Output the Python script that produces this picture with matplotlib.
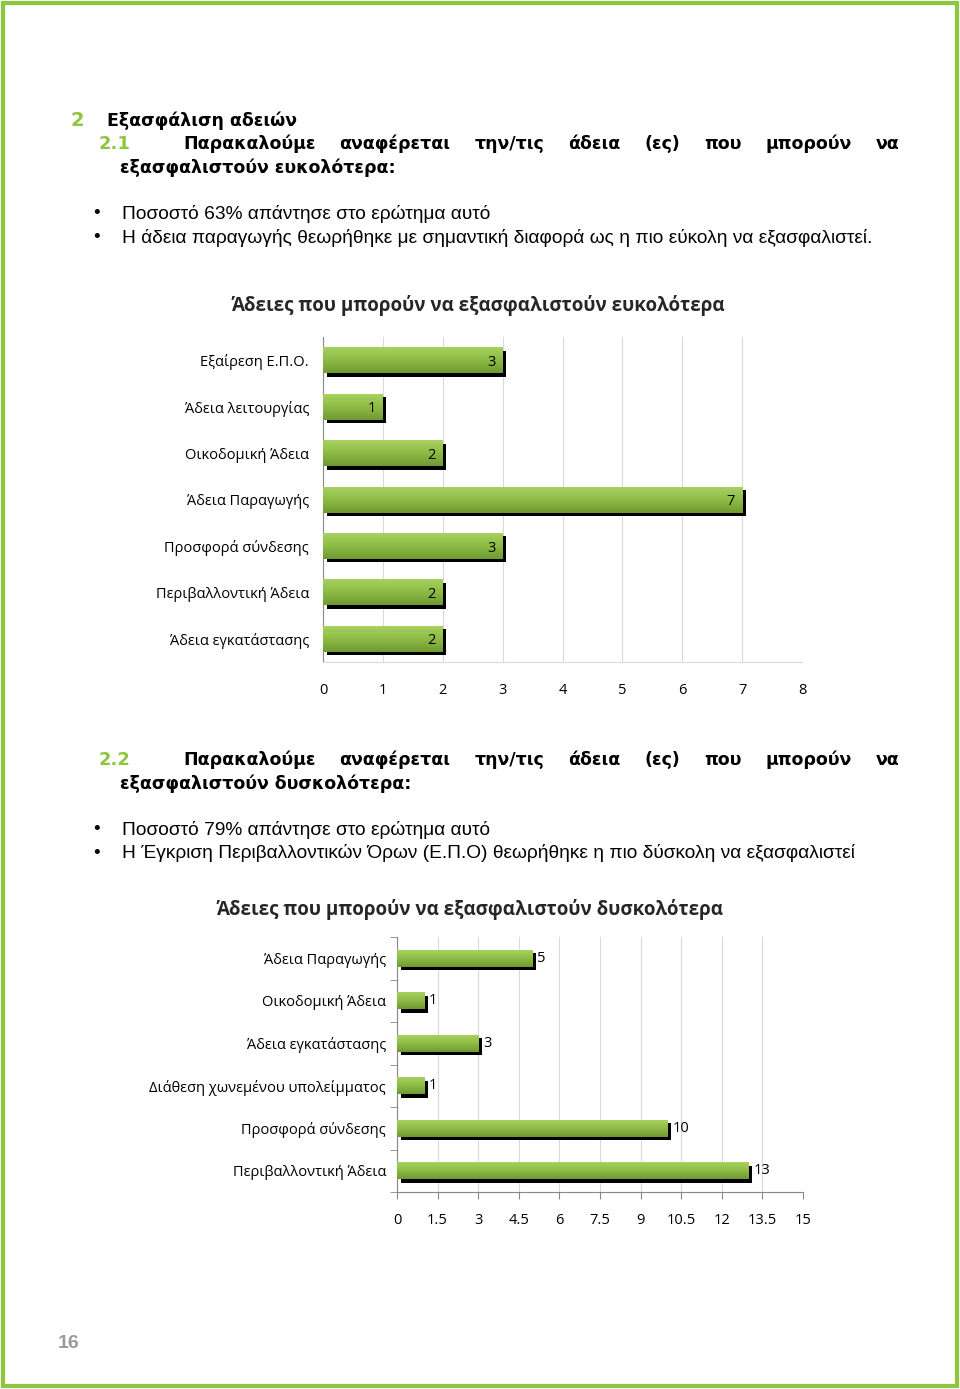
import numpy as np
import matplotlib
matplotlib.use("Agg")
import matplotlib.pyplot as plt
from matplotlib.patches import Rectangle
from matplotlib.transforms import ScaledTranslation

# data
easy_cats = ["Εξαίρεση Ε.Π.Ο.", "Άδεια λειτουργίας", "Οικοδομική Άδεια", "Άδεια Παραγωγής",
             "Προσφορά σύνδεσης", "Περιβαλλοντική Άδεια", "Άδεια εγκατάστασης"]
easy_vals = [3, 1, 2, 7, 3, 2, 2]
easy_ticks = [0, 1, 2, 3, 4, 5, 6, 7, 8]

hard_cats = ["Άδεια Παραγωγής", "Οικοδομική Άδεια", "Άδεια εγκατάστασης",
             "Διάθεση χωνεμένου υπολείμματος", "Προσφορά σύνδεσης", "Περιβαλλοντική Άδεια"]
hard_vals = [5, 1, 3, 1, 10, 13]
hard_ticks = [0, 1.5, 3, 4.5, 6, 7.5, 9, 10.5, 12, 13.5, 15]

W, H = 960, 1389
GREEN = "#8cc63f"
CHART_FONT = ["Open Sans", "DejaVu Sans"]
HEAD_FONT = ["DejaVu Sans"]
BODY_FONT = ["Liberation Sans", "DejaVu Sans"]

fig = plt.figure(figsize=(W / 100, H / 100), dpi=100)
fig.patch.set_facecolor("white")


def fx(x):
    return x / W


def fy(y):
    return 1 - y / H


def txt(x, y, s, **kw):
    kw.setdefault("va", "center")
    return fig.text(fx(x), fy(y), s, **kw)


# page border
fig.patches.append(Rectangle((fx(3), fy(1386)), fx(954), (1383) / H, transform=fig.transFigure,
                             fill=False, edgecolor=GREEN, linewidth=3))


def justified(y, words, x0, x1, **kw):
    renderer = fig.canvas.get_renderer()
    items = [txt(x0, y, w, **kw) for w in words]
    widths = [t.get_window_extent(renderer).width for t in items]
    gap = (x1 - x0 - sum(widths)) / (len(words) - 1)
    x = x0
    for t, w in zip(items, widths):
        t.set_x(fx(x))
        x += w + gap


head_kw = dict(family=HEAD_FONT, fontsize=12.5, fontweight="bold", color="black")
body_kw = dict(family=BODY_FONT, fontsize=13.8, color="black")

txt(70, 120, "2", family=HEAD_FONT, fontsize=14, fontweight="bold", color=GREEN)
txt(107, 121, "Εξασφάλιση αδειών", **head_kw)

txt(99, 144, "2.1", family=HEAD_FONT, fontsize=13, fontweight="bold", color=GREEN)
justified(144, "Παρακαλούμε αναφέρεται την/τις άδεια (ες) που μπορούν να".split(), 183, 900, **head_kw)
txt(120, 168, "εξασφαλιστούν ευκολότερα:", **head_kw)

for y, s in [(214, "Ποσοστό 63% απάντησε στο ερώτημα αυτό"),
             (238, "Η άδεια παραγωγής θεωρήθηκε με σημαντική διαφορά ως η πιο εύκολη να εξασφαλιστεί.")]:
    txt(93, y, "•", **body_kw)
    txt(122, y, s, **body_kw)

txt(99, 760, "2.2", family=HEAD_FONT, fontsize=13, fontweight="bold", color=GREEN)
justified(760, "Παρακαλούμε αναφέρεται την/τις άδεια (ες) που μπορούν να".split(), 183, 900, **head_kw)
txt(120, 784, "εξασφαλιστούν δυσκολότερα:", **head_kw)

for y, s in [(830, "Ποσοστό 79% απάντησε στο ερώτημα αυτό"),
             (853, "Η Έγκριση Περιβαλλοντικών Όρων (Ε.Π.Ο) θεωρήθηκε η πιο δύσκολη να εξασφαλιστεί")]:
    txt(93, y, "•", **body_kw)
    txt(122, y, s, **body_kw)

txt(69, 1344, "16", family=["Liberation Sans"], fontsize=14, fontweight="bold", color="#999999", ha="center")

# green gradient used to fill bars
grad = np.linspace(0, 1, 64).reshape(-1, 1)
cmap = matplotlib.colors.LinearSegmentedColormap.from_list("g", ["#a8d160", "#8dbb45", "#6e9a33"])


def bar_chart(left, top, right, bottom, cats, vals, ticks, bar_h, inside, title, title_x, title_y):
    ax = fig.add_axes([fx(left), fy(bottom), (right - left) / W, (bottom - top) / H])
    y = np.arange(len(cats))
    shadow = ax.barh(y, vals, height=bar_h, color="black", zorder=2)
    off = ScaledTranslation(3.5 / 100, -3.5 / 100, fig.dpi_scale_trans)
    for p in shadow:
        p.set_transform(ax.transData + off)
    bars = ax.barh(y, vals, height=bar_h, color="#8dbb45", zorder=3)
    for p, v in zip(bars, vals):
        im = ax.imshow(grad, cmap=cmap, aspect="auto", zorder=4,
                       extent=[0, v, p.get_y() + bar_h, p.get_y()])
        im.set_clip_path(p)
        if inside:
            ax.annotate(str(v), (v, p.get_y() + bar_h / 2), xytext=(-5, -1.5), textcoords="offset points",
                        ha="right", va="center", family=CHART_FONT, fontsize=10.5, color="black", zorder=5)
        else:
            ax.annotate(str(v), (v, p.get_y() + bar_h / 2), xytext=(3.5, 0), textcoords="offset points",
                        ha="left", va="center", family=CHART_FONT, fontsize=10.5, color="black", zorder=5)
    ax.set_xlim(ticks[0], ticks[-1])
    ax.set_ylim(len(cats) - 0.5, -0.5)
    ax.set_xticks(ticks)
    ax.set_xticklabels([("%g" % t) for t in ticks], family=CHART_FONT, fontsize=10.5)
    ax.set_yticks(y)
    ax.set_yticklabels(cats, family=CHART_FONT, fontsize=10.5)
    ax.grid(axis="x", color="#d9d9d9", linewidth=0.8, zorder=0)
    ax.set_axisbelow(True)
    for s in ["top", "right"]:
        ax.spines[s].set_visible(False)
    ax.spines["left"].set_color("#888888")
    ax.spines["bottom"].set_color("#d9d9d9")
    ax.tick_params(axis="y", length=0, pad=10)
    ax.tick_params(axis="x", length=0, pad=15)
    txt(title_x, title_y, title, family=CHART_FONT, fontsize=13.5, fontweight="bold",
        color="#262626", ha="center")
    return ax


ax1 = bar_chart(323, 337, 802, 662, easy_cats, easy_vals, easy_ticks, 0.56, True,
                "Άδειες που μπορούν να εξασφαλιστούν ευκολότερα", 478, 305)
ax2 = bar_chart(397, 937, 803, 1192, hard_cats, hard_vals, hard_ticks, 0.40, False,
                "Άδειες που μπορούν να εξασφαλιστούν δυσκολότερα", 470, 909)
ax2.spines["bottom"].set_color("#888888")
ax2.tick_params(axis="x", length=5, color="#888888", direction="out", pad=10)
ax2.tick_params(axis="y", pad=8)
ax2.set_yticks(np.arange(len(hard_cats) + 1) - 0.5, minor=True)
ax2.tick_params(axis="y", which="minor", length=5, color="#888888")

fig.savefig("out.png", dpi=100)
